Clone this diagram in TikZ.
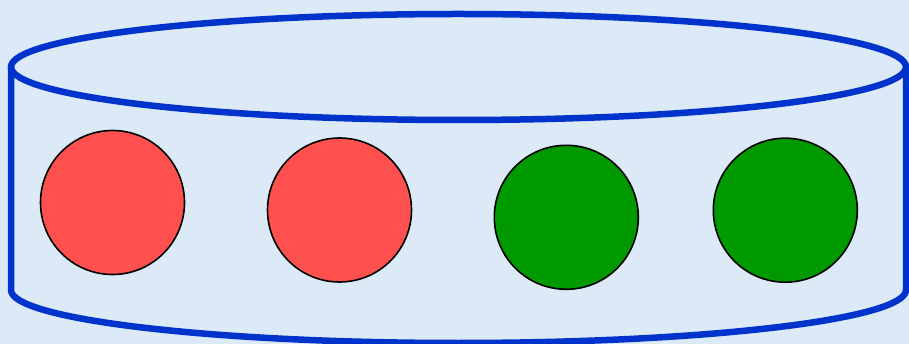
\documentclass[tikz,border=0pt]{standalone}
\usepackage{tikz}
\usetikzlibrary{positioning}
\usepackage{xcolor}
\definecolor{cylblue}{RGB}{0,51,204}
\definecolor{bgblue}{RGB}{220,234,248}
\definecolor{ballred}{RGB}{255,80,80}
\definecolor{ballgreen}{RGB}{0,153,0}
\tikzset{
    ball/.style={
        circle,draw=black,line width=1.6pt,fill=#1,
        minimum size=144pt,inner sep=0pt
    },
    ball/.default=ballred,
    wall/.style={
        draw=cylblue,line width=6.5pt,line cap=round,line join=round
    }
}

\begin{document}
\begin{tikzpicture}[x=1pt,y=-1pt]

\fill[bgblue] (0,0) rectangle (909,344);
\useasboundingbox (0,0) rectangle (909,344);

% lid of the cylinder
\draw[wall] (458.5,67) ellipse [x radius=447.5,y radius=53];

% sides and base
\draw[wall]
(11,67)--(11,290)
arc[start angle=180,end angle=0,x radius=447.5,y radius=53]
--(906,67);

\node[ball] (red1) at (112.5,202.5) {};
\node[ball] (red2) at (339.5,210) {};
\node[ball=ballgreen] (green1) at (566.3,217.3) {};
\node[ball=ballgreen] (green2) at (785.3,210.2) {};

\end{tikzpicture}
\end{document}
